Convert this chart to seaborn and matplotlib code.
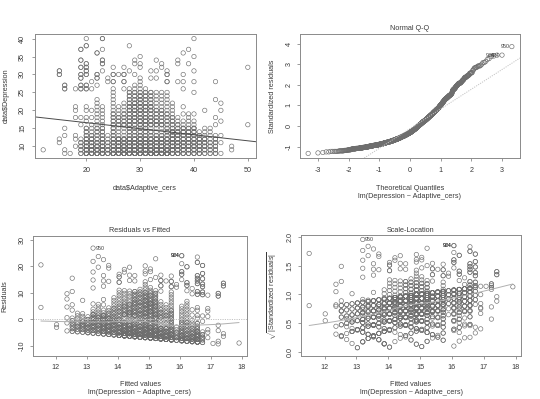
import statistics
import numpy as np
import pandas as pd
import matplotlib
matplotlib.use("Agg")
import matplotlib.pyplot as plt
import seaborn as sns

# ---------------- data ----------------
# Adaptive_cers scores present in the sample
ADAPTIVE_SCORES = [12, 15, 16, 17, 18, 19, 20, 21, 22, 23, 24, 25, 26, 27, 28, 29,
                   30, 31, 32, 33, 34, 35, 36, 37, 38, 39, 40, 41, 42, 43, 44, 45,
                   47, 50]
# Depression levels 8..40 (one character per level in the count strings)
DEPRESSION_LEVELS = list(range(8, 41))
# number of participants at each (score, depression level); groups of 5 levels
COUNTS = [
    "01000 00000 00000 00000 00000 00000 000",  # 12
    "00011 00000 00000 00000 00220 00000 000",  # 15
    "11000 10100 00000 00022 00000 00000 000",  # 16
    "10000 00000 00000 00000 00000 00000 000",  # 17
    "00101 10000 10110 00010 00000 00000 000",  # 18
    "22221 00010 10000 00022 02202 02002 000",  # 19
    "65443 22201 10110 00022 00222 20000 201",  # 20
    "65433 21110 10100 00010 10000 00000 000",  # 21
    "55432 22211 11111 10001 02200 00020 000",  # 22
    "65433 22211 11110 00000 00010 22001 002",  # 23
    "33221 10000 00000 00000 11000 00000 000",  # 24
    "85443 22222 22111 11110 20201 00000 000",  # 25
    "87544 11122 21110 00000 00100 00000 000",  # 26
    "87544 11132 22111 00010 20201 00000 000",  # 27
    "97554 22233 32332 22210 00010 00000 100",  # 28
    "98554 22223 33333 22211 00100 11000 000",  # 29
    "98755 32234 33433 33211 11001 10100 000",  # 30
    "98554 22233 32332 22210 00000 00000 000",  # 31
    "98554 22133 32332 22200 01010 00000 000",  # 32
    "98544 21133 22211 11100 01010 01000 000",  # 33
    "97544 21132 22211 11100 00001 10000 000",  # 34
    "87444 22222 22111 11100 20210 00000 000",  # 35
    "44444 44222 21111 00000 00000 00000 000",  # 36
    "44443 43221 10000 00000 10000 11000 000",  # 37
    "33443 33311 01010 00010 10100 00010 000",  # 38
    "33333 33211 11000 00000 00000 10001 000",  # 39
    "33443 33311 01000 00100 10010 00100 001",  # 40
    "33333 21000 00000 00000 00000 00000 000",  # 41
    "22333 11100 00100 00000 00000 00000 000",  # 42
    "22221 11100 00000 00000 00000 00000 000",  # 43
    "22222 10010 10000 10000 10000 00000 000",  # 44
    "10010 10001 00101 00000 00000 00000 000",  # 45
    "01100 00000 00000 00000 00000 00000 000",  # 47
    "00000 00010 00000 00000 00001 00000 000",  # 50
]
OUTLIER_IDS = ["950", "934", "924"]
X_TICKS_1 = [20, 30, 40, 50]
Y_TICKS_1 = [10, 15, 20, 25, 30, 35, 40]
X_TICKS_2 = [-3, -2, -1, 0, 1, 2, 3]
Y_TICKS_2 = [-1, 0, 1, 2, 3, 4]
X_TICKS_34 = [12, 13, 14, 15, 16, 17, 18]
Y_TICKS_3 = [-10, 0, 10, 20, 30]
Y_TICKS_4 = [0.0, 0.5, 1.0, 1.5, 2.0]

# ---------------- build data set ----------------
xs, ys = [], []
for score, row in zip(ADAPTIVE_SCORES, COUNTS):
    for level, c in zip(DEPRESSION_LEVELS, row.replace(" ", "")):
        for _ in range(int(c)):
            xs.append(score)
            ys.append(level)
df = pd.DataFrame({"Adaptive_cers": xs, "Depression": ys})
x = df["Adaptive_cers"].to_numpy(float)
y = df["Depression"].to_numpy(float)
n = len(x)

# linear model lm(Depression ~ Adaptive_cers)
slope, intercept = np.polyfit(x, y, 1)
fitted = intercept + slope * x
resid = y - fitted
sigma = np.sqrt(np.sum(resid ** 2) / (n - 2))
hat = 1.0 / n + (x - x.mean()) ** 2 / np.sum((x - x.mean()) ** 2)
rstd = resid / (sigma * np.sqrt(1 - hat))
sqrt_abs = np.sqrt(np.abs(rstd))

nd = statistics.NormalDist()
pp = (np.arange(1, n + 1) - 0.5) / n
theo_sorted = np.array([nd.inv_cdf(p) for p in pp])
order = np.argsort(rstd, kind="stable")
theo = np.empty(n)
theo[order] = theo_sorted

q_y = np.quantile(rstd, [0.25, 0.75])
q_x = np.array([nd.inv_cdf(0.25), nd.inv_cdf(0.75)])
qq_slope = (q_y[1] - q_y[0]) / (q_x[1] - q_x[0])
qq_int = q_y[0] - qq_slope * q_x[0]

top_ids = np.argsort(-np.abs(rstd), kind="stable")[:3]


def lowess(xv, yv, f=2.0 / 3.0, iters=3):
    o = np.argsort(xv, kind="stable")
    xo, yo = xv[o], yv[o]
    m = len(xo)
    ns = max(min(int(round(f * m)), m), 2)
    ux = np.unique(xo)
    rw = np.ones(m)
    fit_u = np.zeros(len(ux))
    for it in range(iters + 1):
        for j, xi in enumerate(ux):
            d = np.abs(xo - xi)
            h = np.sort(d)[ns - 1]
            h = max(h, 1e-12)
            w = np.where(d <= 0.999 * h, (1 - (d / h) ** 3) ** 3, 0.0)
            w = np.where(d <= 0.001 * h, 1.0, w) * rw
            sw = w.sum()
            xm = (w * xo).sum() / sw
            ym = (w * yo).sum() / sw
            var = (w * (xo - xm) ** 2).sum()
            b = (w * (xo - xm) * (yo - ym)).sum() / var if var > 0 else 0.0
            fit_u[j] = ym + b * (xi - xm)
        if it == iters:
            break
        fit_all = np.interp(xo, ux, fit_u)
        r = np.abs(yo - fit_all)
        cmad = 6 * np.median(r)
        if cmad < 1e-7:
            break
        rw = np.where(r <= 0.999 * cmad, (1 - (r / cmad) ** 2) ** 2, 0.0)
        rw = np.where(r <= 0.001 * cmad, 1.0, rw)
    return ux, fit_u


lx3, ly3 = lowess(fitted, resid)
lx4, ly4 = lowess(fitted, sqrt_abs)

# ---------------- style ----------------
sns.set_theme(style="white")
plt.rcParams["font.family"] = ["Liberation Sans", "DejaVu Sans"]
plt.rcParams["mathtext.fontset"] = "custom"
plt.rcParams["mathtext.rm"] = "Liberation Sans"
plt.rcParams["mathtext.it"] = "Liberation Sans:italic"

W, H = 540, 399
fig = plt.figure(figsize=(W / 100, H / 100), dpi=100)
fig.patch.set_facecolor("white")

FS = 5.2
TXT = "#3a3a3a"
PT = "#6e6e6e"
BOX = "#8a8a8a"


def ax_at(l, r, t, b):
    return fig.add_axes([l / W, 1 - b / H, (r - l) / W, (b - t) / H])


def rlim(lo, hi):
    d = hi - lo
    return lo - 0.04 * d, hi + 0.04 * d


def style(ax, xt, yt, xfmt=None, yfmt=None, xpad=4.0, ypad=3.2):
    ax.set_facecolor("white")
    for s in ax.spines.values():
        s.set_color(BOX)
        s.set_linewidth(0.7)
        s.set_visible(True)
    ax.set_xticks(xt)
    ax.set_yticks(yt)
    ax.set_xticklabels([xfmt(v) if xfmt else str(v) for v in xt])
    ax.set_yticklabels([yfmt(v) if yfmt else str(v) for v in yt],
                       rotation=90, va="center")
    ax.tick_params(axis="both", which="major", direction="out", length=2.4,
                   width=0.6, color=BOX, labelsize=FS, labelcolor=TXT,
                   bottom=True, left=True, top=False, right=False)
    ax.tick_params(axis="x", pad=xpad)
    ax.tick_params(axis="y", pad=ypad)
    ax.set_xlabel("")
    ax.set_ylabel("")
    ax.grid(False)


def ftext(xp, yp, s, rot=0, size=FS):
    fig.text(xp / W, 1 - yp / H, s, ha="center", va="center", rotation=rot,
             fontsize=size, color=TXT)


def points(ax, xv, yv):
    sns.scatterplot(x=xv, y=yv, ax=ax, marker="o", s=10, facecolor="none",
                    edgecolor=PT, linewidth=0.45, legend=False)


def label_points(ax, xv, yv, mid, size=3.8):
    for k, i in enumerate(top_ids):
        right = xv[i] < mid
        ax.annotate(OUTLIER_IDS[k], (xv[i], yv[i]),
                    xytext=(1.6 if right else -1.6, 0), textcoords="offset points",
                    ha="left" if right else "right", va="center",
                    fontsize=size, color=TXT)


# ---- panel 1: scatter with regression line
ax1 = ax_at(35, 256, 34, 158)
xl1 = rlim(x.min(), x.max())
yl1 = rlim(y.min(), y.max())
ax1.set_xlim(xl1)
ax1.set_ylim(yl1)
points(ax1, x, y)
ax1.set_xlim(xl1)
sns.regplot(data=df, x="Adaptive_cers", y="Depression", ax=ax1, scatter=False,
            ci=None, truncate=False, color="#4a4a4a", line_kws={"linewidth": 0.7})
ax1.set_xlim(xl1)
ax1.set_ylim(yl1)
style(ax1, X_TICKS_1, Y_TICKS_1, xpad=4.4, ypad=4.0)
ftext(145, 189, "data$Adaptive_cers")
ftext(6, 96, "data$Depression", rot=90)

# ---- panel 2: normal QQ
ax2 = ax_at(300, 520, 34, 158)
points(ax2, theo, rstd)
ylo, yhi = rstd.min(), rstd.max()
yhi = yhi + (yhi - ylo) * 0.075
ax2.set_xlim(rlim(theo.min(), theo.max()))
ax2.set_ylim(rlim(ylo, yhi))
ax2.axline((0, qq_int), slope=qq_slope, color="#c4c4c4", linestyle=(0, (1.2, 1.2)),
           linewidth=0.7)
label_points(ax2, theo, rstd, 0.0)
style(ax2, X_TICKS_2, Y_TICKS_2, xpad=4.0, ypad=3.0)
ftext(410, 29, "Normal Q-Q")
ftext(410, 189, "Theoretical Quantiles")
ftext(410, 197, "lm(Depression ~ Adaptive_cers)")
ftext(272, 96, "Standardized residuals", rot=90)

# ---- panel 3: residuals vs fitted
ax3 = ax_at(33, 247, 236, 356)
points(ax3, fitted, resid)
xl3 = rlim(fitted.min(), fitted.max())
rr = resid.max() - resid.min()
ax3.set_xlim(xl3)
ax3.set_ylim(rlim(resid.min() - 0.08 * rr, resid.max() + 0.08 * rr))
ax3.axhline(0, color="#c4c4c4", linestyle=(0, (1.2, 1.2)), linewidth=0.7)
sns.lineplot(x=lx3, y=ly3, ax=ax3, color="#b0b0b0", linewidth=0.7,
             errorbar=None, legend=False)
label_points(ax3, fitted, resid, np.mean(xl3))
style(ax3, X_TICKS_34, Y_TICKS_3, xpad=3.4, ypad=2.8)
ftext(140, 230, "Residuals vs Fitted")
ftext(140, 385, "Fitted values")
ftext(140, 393, "lm(Depression ~ Adaptive_cers)")
ftext(5, 296, "Residuals", rot=90)

# ---- panel 4: scale-location
ax4 = ax_at(301, 521, 235, 356)
points(ax4, fitted, sqrt_abs)
ax4.set_xlim(rlim(fitted.min(), fitted.max()))
ax4.set_ylim(rlim(0, sqrt_abs.max()))
sns.lineplot(x=lx4, y=ly4, ax=ax4, color="#b0b0b0", linewidth=0.7,
             errorbar=None, legend=False)
label_points(ax4, fitted, sqrt_abs, np.mean(xl3))
style(ax4, X_TICKS_34, Y_TICKS_4, yfmt=lambda v: f"{v:.1f}", xpad=3.4, ypad=3.0)
ftext(411, 230, "Scale-Location")
ftext(411, 385, "Fitted values")
ftext(411, 393, "lm(Depression ~ Adaptive_cers)")
ftext(272, 296, r"$\sqrt{|\mathrm{Standardized\ residuals}|}$", rot=90)

fig.savefig("out.png", dpi=100, facecolor="white")
